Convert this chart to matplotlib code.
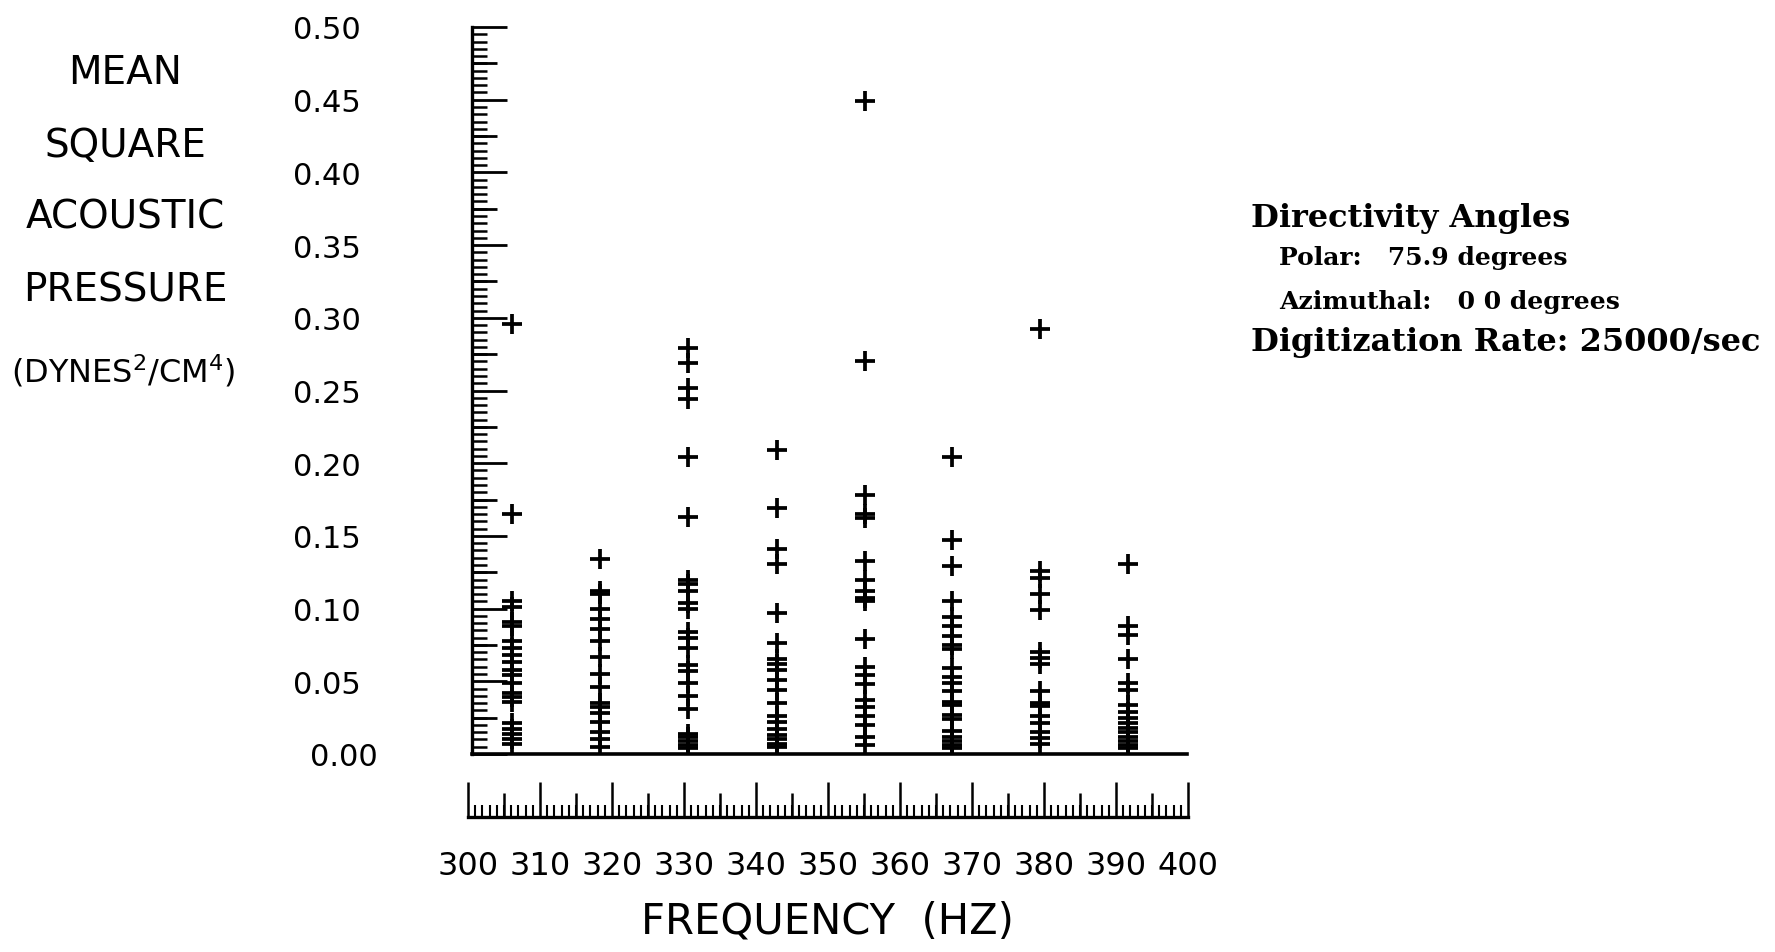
"""
Mean square acoustic pressure at the harmonic bins, 300-400 Hz.
Scatter of '+' marks with a separate frequency ruler underneath.
"""

import matplotlib
matplotlib.use('Agg')
import matplotlib.pyplot as plt
import numpy as np
from matplotlib.transforms import ScaledTranslation

plt.rcParams['font.family'] = ['DejaVu Sans']
plt.rcParams['mathtext.default'] = 'regular'

# ----------------------------------------------
# DATA (one list per harmonic bin)
# ----------------------------------------------
freqs = [305.6, 317.9, 330.2, 342.6, 354.9, 367.2, 379.5, 391.8]

p_306 = [0.296, 0.165, 0.105, 0.101, 0.091, 0.088, 0.078, 0.073, 0.068, 0.063,
         0.058, 0.054, 0.049, 0.042, 0.039, 0.036, 0.021, 0.017, 0.014, 0.010, 0.007]
p_318 = [0.134, 0.112, 0.110, 0.100, 0.093, 0.086, 0.078, 0.067, 0.055, 0.046,
         0.035, 0.032, 0.028, 0.022, 0.015, 0.010, 0.005]
p_330 = [0.279, 0.269, 0.252, 0.244, 0.204, 0.163, 0.120, 0.117, 0.112, 0.104,
         0.100, 0.084, 0.080, 0.073, 0.061, 0.057, 0.049, 0.040, 0.031, 0.014,
         0.012, 0.009, 0.006, 0.004]
p_343 = [0.209, 0.169, 0.141, 0.131, 0.097, 0.076, 0.065, 0.062, 0.058, 0.051,
         0.044, 0.035, 0.026, 0.022, 0.017, 0.013, 0.010, 0.007, 0.005]
p_355 = [0.449, 0.270, 0.178, 0.165, 0.162, 0.133, 0.120, 0.112, 0.107, 0.105,
         0.079, 0.060, 0.054, 0.048, 0.037, 0.032, 0.026, 0.020, 0.012, 0.006]
p_367 = [0.204, 0.147, 0.129, 0.105, 0.094, 0.088, 0.081, 0.075, 0.072, 0.059,
         0.053, 0.049, 0.043, 0.036, 0.034, 0.027, 0.024, 0.016, 0.012, 0.009,
         0.006, 0.004]
p_380 = [0.292, 0.126, 0.121, 0.110, 0.099, 0.070, 0.066, 0.062, 0.043, 0.035,
         0.033, 0.026, 0.021, 0.015, 0.011, 0.007]
p_392 = [0.131, 0.088, 0.082, 0.065, 0.049, 0.044, 0.034, 0.029, 0.025, 0.021,
         0.018, 0.015, 0.012, 0.009, 0.006, 0.004]

pressures = [p_306, p_318, p_330, p_343, p_355, p_367, p_380, p_392]

y_ticks = [0.00, 0.05, 0.10, 0.15, 0.20, 0.25, 0.30, 0.35, 0.40, 0.45, 0.50]
x_ticks = [300, 310, 320, 330, 340, 350, 360, 370, 380, 390, 400]

# ----------------------------------------------
# FIGURE (pixel based layout)
# ----------------------------------------------
W, H = 1775, 953
fig = plt.figure(figsize=(W / 100, H / 100), dpi=100, facecolor='white')


def box(x0, y0, x1, y1):
    # pixel box (top-left origin) -> figure fraction
    return [x0 / W, 1 - y1 / H, (x1 - x0) / W, (y1 - y0) / H]


ax = fig.add_axes(box(472, 28, 1187, 755))
for f, vals in zip(freqs, pressures):
    ax.plot([f] * len(vals), vals, linestyle='none', marker='+',
            color='black', ms=14, mew=2.7)

ax.set_xlim(300, 400)
ax.set_ylim(0, 0.5)
ax.spines['top'].set_visible(False)
ax.spines['right'].set_visible(False)
ax.spines['left'].set_linewidth(2.4)
ax.spines['bottom'].set_linewidth(2.6)
ax.set_xticks([])

ax.set_yticks(y_ticks)
ax.set_yticklabels([f'{v:.2f}' for v in y_ticks])
ax.set_yticks(np.arange(0, 0.5001, 0.005), minor=True)
ax.tick_params(axis='y', which='major', direction='in', length=25, width=2.0,
               pad=80, labelsize=22)
ax.tick_params(axis='y', which='minor', direction='in', length=11, width=1.8)

# the 0.00 label sits a little to the right
lbl0 = ax.get_yticklabels()[0]
lbl0.set_transform(lbl0.get_transform() + ScaledTranslation(17 / 100, 0, fig.dpi_scale_trans))

# intermediate ticks at the 0.025 steps
sec_y = ax.secondary_yaxis('left')
sec_y.spines['left'].set_visible(False)
sec_y.set_yticks(np.arange(0.025, 0.5, 0.05))
sec_y.set_yticklabels([])
sec_y.tick_params(axis='y', direction='in', length=18, width=2.0)

# ----------------------------------------------
# FREQUENCY RULER
# ----------------------------------------------
rx = fig.add_axes(box(468, 780, 1188, 818))
rx.set_xlim(300, 400)
rx.set_ylim(0, 1)
for side in ['top', 'right', 'left']:
    rx.spines[side].set_visible(False)
rx.spines['bottom'].set_linewidth(2.4)
rx.set_yticks([])
rx.set_xticks(x_ticks)
rx.set_xticklabels([str(v) for v in x_ticks])
rx.set_xticks(np.arange(300, 401, 1), minor=True)
rx.tick_params(axis='x', which='major', direction='in', length=25, width=1.8,
               pad=24, labelsize=23)
rx.tick_params(axis='x', which='minor', direction='in', length=9, width=1.5)

sec_x = rx.secondary_xaxis('bottom')
sec_x.spines['bottom'].set_visible(False)
sec_x.set_xticks(np.arange(305, 400, 10))
sec_x.set_xticklabels([])
sec_x.tick_params(axis='x', direction='in', length=17, width=1.8)

fig.text(827 / W, 1 - 922 / H, 'FREQUENCY  (HZ)', ha='center', va='center', fontsize=30)

# ----------------------------------------------
# Y LABEL (stacked words)
# ----------------------------------------------
for word, yp in zip(['MEAN', 'SQUARE', 'ACOUSTIC', 'PRESSURE'], [73, 146, 218, 291]):
    fig.text(125 / W, 1 - yp / H, word, ha='center', va='center', fontsize=28)
fig.text(123 / W, 1 - 371 / H, r'(DYNES$^2$/CM$^4$)', ha='center', va='center', fontsize=23)

# ----------------------------------------------
# RUN INFO
# ----------------------------------------------
serif = dict(family='DejaVu Serif', fontweight='bold', va='center', ha='left', color='black')
fig.text(1251 / W, 1 - 219 / H, 'Directivity Angles', fontsize=23, **serif)
fig.text(1279 / W, 1 - 258 / H, 'Polar:   75.9 degrees', fontsize=18, **serif)
fig.text(1279 / W, 1 - 302 / H, 'Azimuthal:   0 0 degrees', fontsize=18, **serif)
fig.text(1251 / W, 1 - 343 / H, 'Digitization Rate: 25000/sec', fontsize=23, **serif)

fig.savefig('out.png', dpi=100, facecolor='white')
plt.close(fig)
